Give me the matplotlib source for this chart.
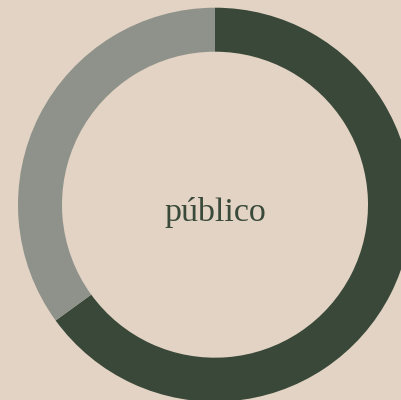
import matplotlib
matplotlib.use("Agg")
import matplotlib.pyplot as plt

categories = ["público", "otro"]
values = [65, 35]
colors = ["#394838", "#8f928a"]
center_label = "público"

bg = "#e2d3c4"
fig = plt.figure(figsize=(4.02, 4.00), dpi=100)
fig.patch.set_facecolor(bg)
ax = fig.add_axes([0, 0, 1, 1])
ax.set_facecolor(bg)

ax.pie(values, colors=colors, startangle=90, counterclock=False,
       radius=197, center=(215, 195.3),
       wedgeprops=dict(width=44, linewidth=0))
ax.set_xlim(0, 402)
ax.set_ylim(0, 400)
ax.set_aspect("auto")
ax.axis("off")

ax.text(215, 188, center_label, ha="center", va="center",
        fontsize=24.5, color="#3a4a3a", family=["Liberation Serif", "DejaVu Serif"])

fig.savefig("out.png", dpi=100, facecolor=bg)
